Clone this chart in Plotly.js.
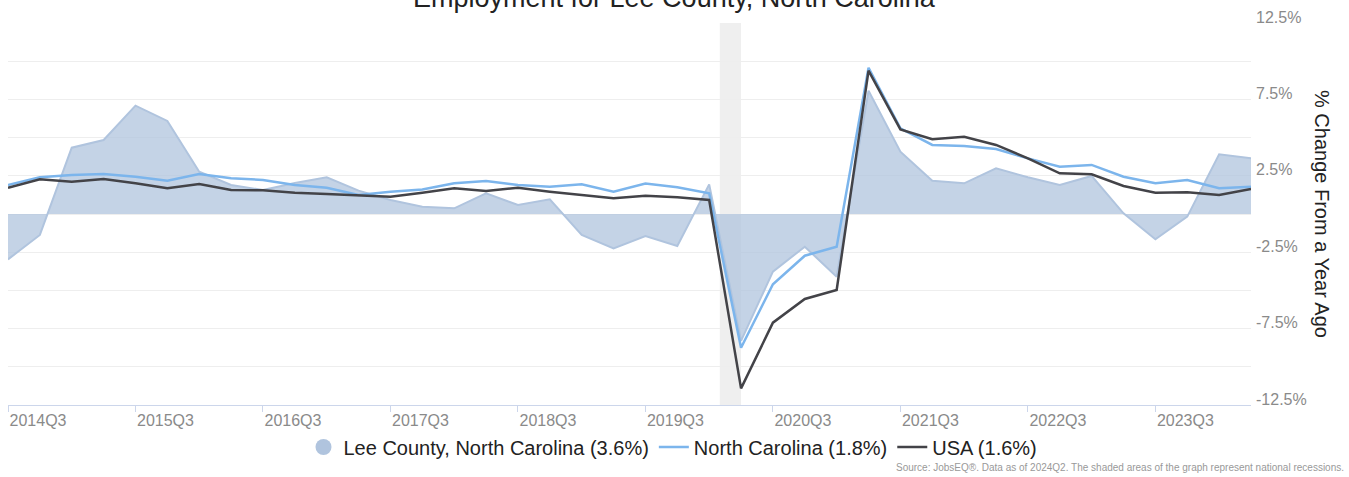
<!DOCTYPE html>
<html><head><meta charset="utf-8">
<script src="https://cdn.plot.ly/plotly-3.0.1.min.js"></script>
<style>html,body{margin:0;padding:0;background:#fff}#chart{width:1349px;height:477px}</style>
</head><body><div id="chart"></div>
<script>
const quarters = ['2014Q3','2014Q4',
  '2015Q1','2015Q2','2015Q3','2015Q4','2016Q1','2016Q2','2016Q3','2016Q4',
  '2017Q1','2017Q2','2017Q3','2017Q4','2018Q1','2018Q2','2018Q3','2018Q4',
  '2019Q1','2019Q2','2019Q3','2019Q4','2020Q1','2020Q2','2020Q3','2020Q4',
  '2021Q1','2021Q2','2021Q3','2021Q4','2022Q1','2022Q2','2022Q3','2022Q4',
  '2023Q1','2023Q2','2023Q3','2023Q4','2024Q1','2024Q2'];
const tickLabels = ['2014Q3','2015Q3','2016Q3','2017Q3','2018Q3','2019Q3','2020Q3','2021Q3','2022Q3','2023Q3'];
const yTicks = [-12.5,-7.5,-2.5,2.5,7.5,12.5];
const yMinorGrid = [-10,-5,0,5,10];

const lee = [-2.97,-1.37,4.34,4.84,7.09,6.09,2.77,1.90,1.57,2.03,2.40,1.53,0.92,0.48,0.37,1.35,0.59,0.96,-1.37,-2.25,
  -1.44,-2.09,1.94,-8.30,-3.77,-2.14,-4.10,8.07,4.08,2.18,2.01,2.99,2.40,1.90,2.49,0.04,-1.66,-0.17,3.91,3.64];
const nc = [1.90,2.40,2.55,2.62,2.44,2.18,2.62,2.34,2.23,1.90,1.72,1.24,1.46,1.61,2.01,2.16,1.90,1.79,1.94,1.46,
  1.99,1.75,1.35,-8.75,-4.60,-2.73,-2.14,9.57,5.61,4.52,4.45,4.25,3.64,3.10,3.21,2.44,2.01,2.23,1.68,1.79];
const usa = [1.72,2.27,2.11,2.29,2.01,1.68,1.96,1.57,1.55,1.39,1.31,1.20,1.13,1.39,1.68,1.51,1.72,1.46,1.24,1.03,
  1.20,1.09,0.92,-11.41,-7.11,-5.56,-4.97,9.38,5.54,4.89,5.06,4.52,3.64,2.66,2.60,1.83,1.39,1.42,1.24,1.63];

const seriesNames = ['Lee County, North Carolina','North Carolina','USA'];
const recessions = [['2020-02','2020-04']];

function monthToIndex(ym){
  const [y,m] = ym.split('-').map(Number);
  const y0 = +quarters[0].slice(0,4), q0 = +quarters[0].slice(5);
  return (y - y0)*4 + (m-1)/3 - (q0-1);
}
const last = a => a[a.length-1].toFixed(1);

const FONT = 'Liberation Sans, Arial, sans-serif';
const cLee = '#B0C4DE', cNC = '#7cb5ec', cUSA = '#434348';

const traces = [
  {x: quarters, y: lee, type:'scatter', mode:'lines', fill:'tozeroy',
   fillcolor:'rgba(176,196,222,0.75)', line:{color:cLee, width:2}, showlegend:false, hoverinfo:'skip'},
  {x: [null], y:[null], type:'scatter', mode:'markers', marker:{color:cLee, size:20, symbol:'circle'},
   name: `${seriesNames[0]} (${last(lee)}%)`},
  {x: quarters, y: nc, type:'scatter', mode:'lines', line:{color:cNC, width:2.5},
   name: `${seriesNames[1]} (${last(nc)}%)`},
  {x: quarters, y: usa, type:'scatter', mode:'lines', line:{color:cUSA, width:2.5},
   name: `${seriesNames[2]} (${last(usa)}%)`}
];

const L = 8, R = 98, T = 23, B = 72, W = 1349, H = 477;
const pw = W - L - R, ph = H - T - B;
const px = x => (x - L)/pw;
const py = y => (H - B - y)/ph;

const layout = {
  width: W, height: H,
  margin: {l:L, r:R, t:T, b:B},
  paper_bgcolor:'#fff', plot_bgcolor:'#fff',
  font: {family: FONT, color:'#222'},
  showlegend: true,
  legend: {orientation:'h', x: px(673), xanchor:'center', y: py(447), yanchor:'middle',
    font:{family:FONT, size:20, color:'#222'}, itemwidth:30, traceorder:'normal', bgcolor:'rgba(0,0,0,0)'},
  xaxis: {type:'category', range:[0, quarters.length-1], tickvals: tickLabels, ticktext: tickLabels,
    showgrid:false, zeroline:false, showline:true, linecolor:'#ccd6eb', linewidth:1,
    ticks:'outside', ticklen:6, tickcolor:'#ccd6eb', tickwidth:1,
    tickfont:{family:FONT, size:16, color:'#8a8a8a'}, ticklabelshift:30, ticklabelstandoff:-5},
  yaxis: {side:'right', range:[-12.5,12.5], tickvals: yTicks, ticktext: yTicks.map(v => v.toFixed(1)+'%'),
    showgrid:true, gridcolor:'#eeeeee', gridwidth:1, zeroline:false, showline:false, ticks:'',
    minor:{tickvals: yMinorGrid, showgrid:true, gridcolor:'#eeeeee', gridwidth:1, ticks:''},
    tickfont:{family:FONT, size:16, color:'#8a8a8a'}, ticklabelshift:-6, ticklabelstandoff:4},
  shapes: recessions.map(r => ({type:'rect', xref:'x', yref:'paper', x0: monthToIndex(r[0]), x1: monthToIndex(r[1]),
    y0:0, y1:1, fillcolor:'#efefef', line:{width:0}, layer:'below'})),
  annotations: [
    {text:'Employment for Lee County, North Carolina', xref:'paper', yref:'paper', x: px(674.5), y: py(15),
     xanchor:'center', yanchor:'bottom', showarrow:false, font:{family:FONT, size:27, color:'#222'}},
    {text:'% Change From a Year Ago', xref:'paper', yref:'paper', x: px(1322), y: py(214),
     xanchor:'center', yanchor:'middle', textangle:90, showarrow:false, font:{family:FONT, size:20, color:'#222'}},
    {text:'Source: JobsEQ®. Data as of 2024Q2. The shaded areas of the graph represent national recessions.',
     xref:'paper', yref:'paper', x: px(1346), y: py(467), xanchor:'right', yanchor:'middle', showarrow:false,
     font:{family:FONT, size:10, color:'#999'}}
  ]
};

Plotly.newPlot('chart', traces, layout, {displayModeBar:false, staticPlot:true});
</script>
</body></html>
